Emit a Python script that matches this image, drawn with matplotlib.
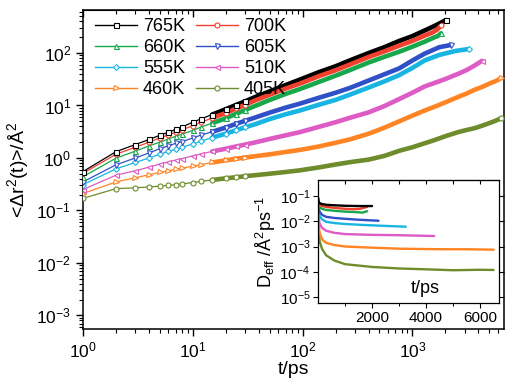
import numpy as np
import matplotlib
matplotlib.use('Agg')
import matplotlib.pyplot as plt
from matplotlib.lines import Line2D
from matplotlib.ticker import LogLocator, NullFormatter, FixedLocator, NullLocator, LogFormatterSciNotation

plt.rcParams['font.family'] = ['Liberation Sans', 'DejaVu Sans']
plt.rcParams['mathtext.fontset'] = 'custom'
plt.rcParams['mathtext.rm'] = 'Liberation Sans'
plt.rcParams['mathtext.it'] = 'Liberation Sans:italic'
plt.rcParams['mathtext.bf'] = 'Liberation Sans:bold'

# ---------------- data (main panel: MSD vs t) ----------------
labels = ['765K', '700K', '660K', '605K', '555K', '510K', '460K', '405K']
colors = ['#000000', '#f2402f', '#17a84b', '#3050c8', '#18b4e2', '#de5ac4', '#ff8424', '#6e8c2c']
markers = ['s', 'o', '^', 'v', 'D', '<', '>', 'o']

x_major = [1, 10, 100, 1000]
y_major = [1e-3, 1e-2, 1e-1, 1, 10, 100]

t_early = [1, 2, 3, 4, 5, 6, 7, 8, 10, 12, 15, 20, 25, 30]

msd_early_765 = [0.55, 1.32, 1.8, 2.25, 2.7, 3.1, 3.5, 3.9, 4.8, 5.6, 6.7, 8.5, 10.3, 12.0]
msd_early_700 = [0.51, 1.18, 1.6, 2.0, 2.4, 2.75, 3.1, 3.45, 4.1, 4.8, 5.8, 7.2, 8.8, 10.3]
msd_early_660 = [0.44, 0.99, 1.35, 1.7, 2.0, 2.3, 2.6, 2.85, 3.35, 3.9, 4.6, 5.7, 7.0, 8.2]
msd_early_605 = [0.35, 0.74, 1.0, 1.25, 1.5, 1.7, 1.9, 2.05, 2.4, 2.75, 3.15, 3.8, 4.5, 5.1]
msd_early_555 = [0.31, 0.62, 0.82, 1.0, 1.18, 1.33, 1.47, 1.6, 1.85, 2.1, 2.45, 2.9, 3.4, 3.85]
msd_early_510 = [0.25, 0.47, 0.57, 0.67, 0.76, 0.84, 0.91, 0.97, 1.1, 1.2, 1.33, 1.5, 1.66, 1.8]
msd_early_460 = [0.21, 0.35, 0.42, 0.48, 0.53, 0.57, 0.61, 0.64, 0.70, 0.75, 0.82, 0.90, 0.97, 1.02]
msd_early_405 = [0.17, 0.26, 0.27, 0.28, 0.29, 0.30, 0.31, 0.32, 0.34, 0.36, 0.38, 0.41, 0.43, 0.45]

t_late_765 = [37, 50, 70, 94, 140, 200, 268, 400, 560, 760, 1000, 1300, 1600, 2025]
msd_late_765 = [14.5, 18.5, 24.5, 31, 43, 56, 72, 100, 130, 170, 210, 270, 330, 425]
t_late_700 = [37, 50, 70, 94, 140, 200, 268, 400, 560, 760, 1000, 1300, 1550, 1700, 1820]
msd_late_700 = [12.5, 16, 21, 26, 36, 47, 60, 84, 108, 138, 170, 215, 250, 285, 335]
t_late_660 = [37, 50, 70, 94, 140, 200, 268, 400, 560, 760, 1000, 1300, 1550, 1700, 1820]
msd_late_660 = [9.8, 12.7, 16.6, 20.5, 28, 37, 47, 66, 85, 106, 132, 165, 195, 210, 237]
t_late_605 = [37, 50, 70, 94, 140, 200, 268, 450, 760, 1000, 1290, 1760, 2000, 2240]
msd_late_605 = [5.9, 7.3, 9.1, 10.8, 14, 17.5, 21.5, 33, 51, 72, 97, 129, 136, 142]
t_late_555 = [37, 50, 70, 94, 140, 200, 268, 400, 560, 760, 1000, 1290, 1760, 2500, 3250]
msd_late_555 = [4.4, 5.5, 6.8, 8.0, 10.3, 12.8, 16, 22, 29, 38, 52, 72, 92, 110, 119]
t_late_510 = [37, 50, 70, 94, 140, 200, 268, 400, 560, 760, 1000, 1290, 1600, 2000, 2600, 3100, 3700, 4300]
msd_late_510 = [1.98, 2.3, 2.7, 3.1, 3.9, 4.8, 5.8, 7.4, 9.8, 13.3, 17.5, 23, 27, 32, 40, 47, 58, 71]
t_late_460 = [37, 50, 70, 94, 140, 200, 268, 400, 560, 760, 1000, 1290, 1600, 2000, 2600, 3100, 3700, 4300, 5000, 5700, 6400]
msd_late_460 = [1.08, 1.17, 1.3, 1.42, 1.65, 1.95, 2.25, 2.9, 3.8, 5.0, 6.4, 8.0, 9.5, 11.5, 14.5, 16.8, 20, 22.5, 26, 29, 33]
t_late_405 = [37, 50, 70, 94, 140, 200, 268, 400, 560, 760, 1000, 1290, 1600, 2000, 2600, 3100, 3700, 4300, 5000, 5700, 6400]
msd_late_405 = [0.47, 0.50, 0.54, 0.58, 0.66, 0.75, 0.83, 0.93, 1.1, 1.37, 1.6, 1.9, 2.2, 2.6, 3.1, 3.4, 3.7, 4.1, 4.6, 5.1, 5.7]

msd_early = [msd_early_765, msd_early_700, msd_early_660, msd_early_605,
             msd_early_555, msd_early_510, msd_early_460, msd_early_405]
t_late = [t_late_765, t_late_700, t_late_660, t_late_605,
          t_late_555, t_late_510, t_late_460, t_late_405]
msd_late = [msd_late_765, msd_late_700, msd_late_660, msd_late_605,
            msd_late_555, msd_late_510, msd_late_460, msd_late_405]

# ---------------- data (inset: D_eff vs t) ----------------
ti_765 = [1, 20, 60, 150, 300, 600, 1000, 1500, 2000]
d_765 = [0.09, 0.06, 0.052, 0.048, 0.045, 0.043, 0.041, 0.04, 0.04]
ti_700 = [1, 20, 60, 150, 300, 600, 1000, 1300, 1550, 1820]
d_700 = [0.085, 0.055, 0.045, 0.04, 0.037, 0.034, 0.031, 0.030, 0.031, 0.037]
ti_660 = [1, 20, 60, 150, 300, 600, 1000, 1400, 1650, 1820]
d_660 = [0.075, 0.045, 0.036, 0.031, 0.028, 0.026, 0.024, 0.023, 0.022, 0.025]
ti_605 = [1, 20, 60, 150, 300, 600, 1000, 1500, 2000, 2240]
d_605 = [0.07, 0.035, 0.024, 0.018, 0.015, 0.0135, 0.0125, 0.0115, 0.0108, 0.0105]
ti_555 = [1, 20, 60, 150, 300, 600, 1000, 1600, 2400, 3250]
d_555 = [0.06, 0.025, 0.016, 0.012, 0.0095, 0.0085, 0.0078, 0.0072, 0.0066, 0.0061]
ti_510 = [1, 20, 60, 150, 300, 600, 1000, 2000, 3000, 4300]
d_510 = [0.05, 0.015, 0.008, 0.0055, 0.0042, 0.0035, 0.0031, 0.0029, 0.0028, 0.0026]
ti_460 = [1, 20, 60, 150, 300, 600, 1000, 2000, 3000, 4500, 5500, 6500]
d_460 = [0.04, 0.007, 0.0035, 0.0019, 0.0014, 0.00115, 0.001, 0.0009, 0.00082, 0.00078, 0.00078, 0.00075]
ti_405 = [1, 20, 60, 150, 300, 600, 1000, 2000, 3000, 4000, 5000, 6000, 6500]
d_405 = [0.03, 0.004, 0.0016, 0.0008, 0.00045, 0.00028, 0.0002, 0.000155, 0.000135,
         0.000125, 0.000115, 0.00012, 0.000118]

t_inset = [ti_765, ti_700, ti_660, ti_605, ti_555, ti_510, ti_460, ti_405]
d_inset = [d_765, d_700, d_660, d_605, d_555, d_510, d_460, d_405]

# ---------------- figure ----------------
W, H = 505, 383
fig = plt.figure(figsize=(W / 100, H / 100), dpi=100)
ax = fig.add_axes([83 / W, 1 - 329 / H, (W - 83) / W - 0.001, (329 - 10) / H])

for i in reversed(range(len(labels))):
    t_all = np.array(t_early + t_late[i], dtype=float)
    m_all = np.array(msd_early[i] + msd_late[i], dtype=float)
    n_e = len(t_early)
    ax.plot(t_all[n_e - 4:], m_all[n_e - 4:], color=colors[i], lw=3.3,
            solid_capstyle='round', solid_joinstyle='round', zorder=2 + i * 0.01)
    mk = list(range(n_e)) + [len(t_all) - 1]
    ax.plot(t_all, m_all, color=colors[i], lw=0.9, marker=markers[i],
            ms=3.6 if markers[i] != 'D' else 3.0,
            mfc='white', mec=colors[i], mew=0.8, markevery=mk, zorder=3 + (7 - i) * 0.01)

ax.set_xscale('log')
ax.set_yscale('log')
XLIM = (1, 6900)
YLIM = (5.5e-4, 660)
ax.set_xlim(*XLIM)
ax.set_ylim(*YLIM)

x_minor = [m * 10 ** e for e in range(0, 4) for m in range(2, 10) if m * 10 ** e <= XLIM[1]]
y_minor = [m * 10.0 ** e for e in range(-4, 3) for m in range(2, 10)
           if YLIM[0] <= m * 10.0 ** e <= YLIM[1]]

ax.xaxis.set_major_locator(FixedLocator(x_major))
ax.xaxis.set_major_formatter(LogFormatterSciNotation())
ax.xaxis.set_minor_locator(FixedLocator(x_minor))
ax.xaxis.set_minor_formatter(NullFormatter())
ax.yaxis.set_major_locator(FixedLocator(y_major))
ax.yaxis.set_major_formatter(LogFormatterSciNotation())
ax.yaxis.set_minor_locator(FixedLocator(y_minor))
ax.yaxis.set_minor_formatter(NullFormatter())

ax.tick_params(axis='both', which='major', direction='out', length=5, width=1.0, labelsize=12.5)
ax.tick_params(axis='both', which='minor', direction='out', length=3, width=0.8)
ax.tick_params(top=False, right=False)

sec = ax.secondary_xaxis('top', functions=(lambda x: x, lambda x: x))
sec.xaxis.set_major_locator(FixedLocator(x_major))
sec.xaxis.set_minor_locator(FixedLocator(x_minor))
sec.tick_params(axis='x', which='major', direction='in', length=5, width=1.0, labeltop=False)
sec.tick_params(axis='x', which='minor', direction='in', length=3, width=0.8)
sec.xaxis.set_minor_formatter(NullFormatter())
sec.xaxis.set_major_formatter(NullFormatter())

for s in ax.spines.values():
    s.set_linewidth(1.1)

ax.set_xlabel('t/ps', fontsize=14, labelpad=0)
ax.set_ylabel('<Δr$^2$(t)>/Å$^2$', fontsize=14, labelpad=4)

handles = [Line2D([], [], color=colors[i], lw=1.0, marker=markers[i],
                  ms=3.6 if markers[i] != 'D' else 3.0, mfc='white', mec=colors[i], mew=0.8)
           for i in range(len(labels))]
order = [0, 2, 4, 6, 1, 3, 5, 7]
ax.legend([handles[k] for k in order], [labels[k] for k in order], ncol=2, frameon=False,
          loc='upper left', bbox_to_anchor=(0.02, 0.985), fontsize=13,
          handlelength=2.3, handletextpad=0.35, columnspacing=0.6,
          labelspacing=0.22, borderaxespad=0.0, borderpad=0.2)

# ---------------- inset ----------------
ia = fig.add_axes([318 / W, 1 - 303 / H, 181 / W, 123 / H])
for i in reversed(range(len(labels))):
    ia.plot(t_inset[i], d_inset[i], color=colors[i], lw=1.7, solid_capstyle='round')
ia.set_yscale('log')
ia.set_xlim(0, 6700)
ia.set_ylim(5.8e-6, 0.43)
ia.yaxis.set_major_locator(FixedLocator([1e-5, 1e-4, 1e-3, 1e-2, 1e-1]))
ia.yaxis.set_major_formatter(LogFormatterSciNotation())
ia.yaxis.set_minor_locator(NullLocator())
ia.xaxis.set_major_locator(FixedLocator([2000, 4000, 6000]))
ia.xaxis.set_minor_locator(FixedLocator([1000, 3000, 5000]))
ia.tick_params(axis='both', which='major', direction='out', length=3.5, width=0.8, labelsize=11, pad=2)
ia.tick_params(axis='both', which='minor', direction='out', length=2.5, width=0.7)
ia.tick_params(axis='y', right=True, left=True, labelright=False)
isec = ia.secondary_xaxis('top')
isec.xaxis.set_major_locator(FixedLocator([2000, 4000, 6000]))
isec.xaxis.set_minor_locator(FixedLocator([1000, 3000, 5000]))
isec.tick_params(axis='x', which='both', direction='in', length=3, width=0.8, labeltop=False)
isec.xaxis.set_major_formatter(NullFormatter())
for s in ia.spines.values():
    s.set_linewidth(0.9)
ia.text(0.59, 0.12, 't/ps', transform=ia.transAxes, fontsize=13, ha='center', va='center')
ia.set_ylabel(r'D$_{\mathrm{eff}}$ /Å$^2$ps$^{-1}$', fontsize=13, labelpad=1)

fig.savefig('out.png', dpi=100)
